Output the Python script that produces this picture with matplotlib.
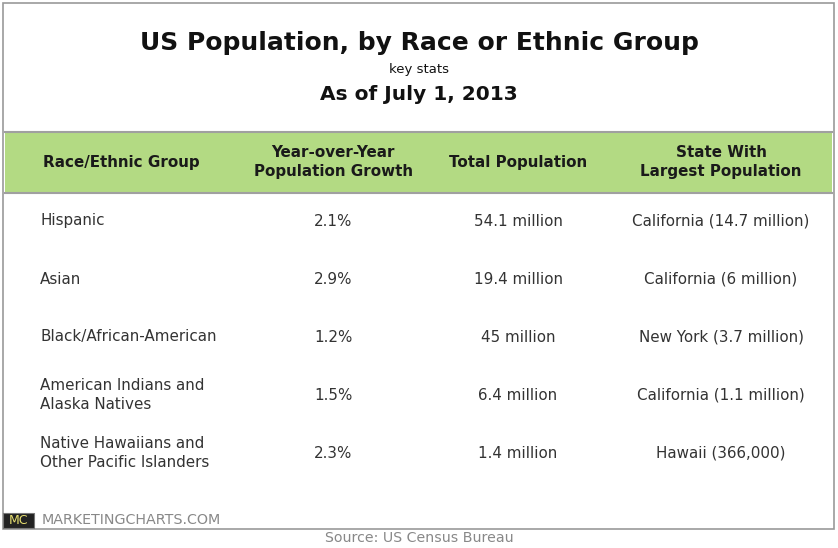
import matplotlib.pyplot as plt
from matplotlib.patches import Rectangle

title = "US Population, by Race or Ethnic Group"
subtitle = "key stats"
date_line = "As of July 1, 2013"

headers = ["Race/Ethnic Group", "Year-over-Year\nPopulation Growth", "Total Population", "State With\nLargest Population"]
groups = ["Hispanic", "Asian", "Black/African-American",
          "American Indians and\nAlaska Natives",
          "Native Hawaiians and\nOther Pacific Islanders"]
growth = ["2.1%", "2.9%", "1.2%", "1.5%", "2.3%"]
total_pop = ["54.1 million", "19.4 million", "45 million", "6.4 million", "1.4 million"]
top_state = ["California (14.7 million)", "California (6 million)", "New York (3.7 million)",
             "California (1.1 million)", "Hawaii (366,000)"]

W, H = 838, 548
fig = plt.figure(figsize=(W / 100, H / 100), dpi=100)
ax = fig.add_axes([0, 0, 1, 1])
ax.set_xlim(0, W)
ax.set_ylim(H, 0)
ax.axis("off")

font = "DejaVu Sans"
dark = "#111111"
body = "#333333"

# outer frame
ax.add_patch(Rectangle((3, 3), 831, 526, fill=False, edgecolor="#999999", lw=1.2))

# titles
ax.text(419, 43, title, ha="center", va="center", fontsize=18, fontweight="bold", color=dark, family=font)
ax.text(419, 69, subtitle, ha="center", va="center", fontsize=9.5, color=dark, family=font)
ax.text(419, 95, date_line, ha="center", va="center", fontsize=14.5, fontweight="bold", color=dark, family=font)

# header band
ax.add_patch(Rectangle((5, 132), 827, 61, facecolor="#b3da83", edgecolor="none"))
ax.plot([5, 832], [132, 132], color="#a0a0a0", lw=1.5)
ax.plot([5, 832], [193, 193], color="#a0a0a0", lw=1.5)

col_x = [121, 333, 518, 721]
for x, h in zip(col_x, headers):
    ax.text(x, 162, h, ha="center", va="center", fontsize=10.9, fontweight="bold",
            color="#1a1a1a", family=font, linespacing=1.3)

row_y = [221, 279, 337, 395, 453]
for i, y in enumerate(row_y):
    ax.text(40, y, groups[i], ha="left", va="center", fontsize=10.9, color=body, family=font, linespacing=1.4)
    ax.text(col_x[1], y, growth[i], ha="center", va="center", fontsize=10.9, color=body, family=font)
    ax.text(col_x[2], y, total_pop[i], ha="center", va="center", fontsize=10.9, color=body, family=font)
    ax.text(col_x[3], y, top_state[i], ha="center", va="center", fontsize=10.9, color=body, family=font)

# logo
ax.add_patch(Rectangle((3, 513), 31, 15, facecolor="#222222", edgecolor="#777777", lw=0.8))
ax.text(18.5, 520.5, "MC", ha="center", va="center", fontsize=9, color="#e8e070", family=font)
ax.text(42, 520, "MARKETINGCHARTS.COM", ha="left", va="center", fontsize=10.3, color="#888888", family=font)

ax.text(419, 538, "Source: US Census Bureau", ha="center", va="center", fontsize=10.2, color="#888888", family=font)

fig.savefig("out.png", dpi=100)
